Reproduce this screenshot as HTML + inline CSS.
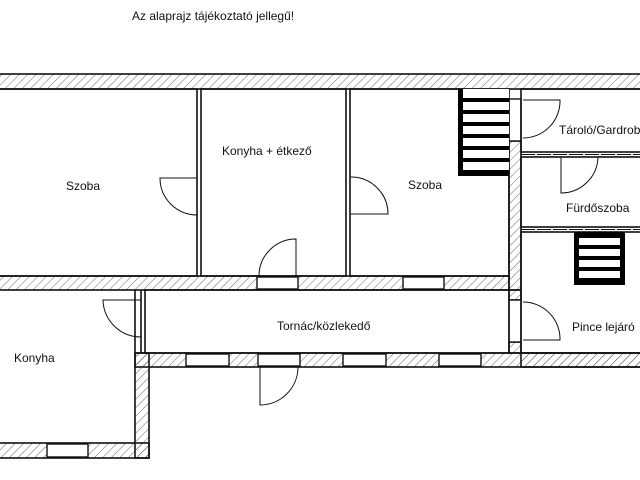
<!DOCTYPE html>
<html><head><meta charset="utf-8"><style>
html,body{margin:0;padding:0;background:#fff;width:640px;height:480px;overflow:hidden}
svg{display:block}
text{font-family:"Liberation Sans",sans-serif;font-size:12px;fill:#111}
</style></head><body>
<svg width="640" height="480" viewBox="0 0 640 480" xmlns="http://www.w3.org/2000/svg">
<defs>
<pattern id="h" width="6" height="6" patternUnits="userSpaceOnUse" patternTransform="rotate(45)">
<line x1="0" y1="0" x2="0" y2="6" stroke="#444" stroke-width="0.8"/>
</pattern>
</defs>
<text x="132" y="20" font-size="12">Az alaprajz tájékoztató jellegű!</text>
<g stroke="#111" stroke-width="1.6">
<rect x="-2" y="74" width="644" height="15" fill="url(#h)"/>
<rect x="-2" y="276" width="511" height="14" fill="url(#h)"/>
<rect x="509" y="141" width="12" height="149" fill="url(#h)"/>
<rect x="509" y="290" width="12" height="10" fill="url(#h)"/>
<rect x="509" y="342" width="12" height="11" fill="url(#h)"/>
<rect x="135" y="353" width="507" height="14" fill="url(#h)"/>
<rect x="135" y="353" width="14" height="105" fill="url(#h)"/>
<rect x="-2" y="443" width="151" height="15" fill="url(#h)"/>
<rect x="521" y="353" width="121" height="14" fill="url(#h)"/>
</g>
<g fill="#fff" stroke="#111" stroke-width="1.4">
<rect x="257" y="277" width="41" height="12"/>
<rect x="403" y="277" width="41" height="12"/>
<rect x="186" y="354" width="43" height="12"/>
<rect x="258" y="354" width="42" height="12"/>
<rect x="343" y="354" width="43" height="12"/>
<rect x="439" y="354" width="42" height="12"/>
<rect x="47" y="444" width="41" height="13"/>
<rect x="509" y="99" width="12" height="42"/>
<rect x="509" y="300" width="12" height="42"/>
</g>
<g fill="none" stroke="#111" stroke-width="1.6">
<rect x="-2" y="89" width="199" height="187"/>
<rect x="201" y="89" width="145" height="187"/>
<rect x="350" y="89" width="159" height="187"/>
<rect x="521" y="89" width="121" height="63"/>
<rect x="521" y="157" width="121" height="70"/>
<rect x="521" y="232" width="121" height="121"/>
<rect x="145" y="290" width="364" height="63"/>
<line x1="141" y1="290" x2="141" y2="353"/>
<line x1="135" y1="290" x2="135" y2="353"/>
</g>
<g fill="none" stroke="#111" stroke-width="1">
<line x1="521" y1="154.5" x2="642" y2="154.5" stroke-dasharray="14,2"/>
<line x1="521" y1="229.5" x2="642" y2="229.5" stroke-dasharray="14,2"/>
<path d="M197 178 H160 A37 37 0 0 0 197 215"/>
<path d="M296 276 V239 A37 37 0 0 0 259 276"/>
<path d="M351 214 H388 A37 37 0 0 0 351 177"/>
<path d="M523 100 H560 A37 37 0 0 1 523 138"/>
<path d="M561 157 V193 A37 37 0 0 0 598 157"/>
<path d="M141 300 H103 A38 38 0 0 0 141 337"/>
<path d="M523 302 A37 37 0 0 1 560 340 H523"/>
<path d="M260 367 V405 A38 38 0 0 0 298 367"/>
</g>
<rect x="458" y="89" width="51" height="87" fill="#000"/>
<g fill="#fff">
<rect x="463" y="89" width="46" height="9"/>
<rect x="463" y="102" width="46" height="8"/>
<rect x="463" y="114" width="46" height="8"/>
<rect x="463" y="126" width="46" height="8"/>
<rect x="463" y="138" width="46" height="8"/>
<rect x="463" y="150" width="46" height="8"/>
<rect x="463" y="162" width="46" height="8"/>
</g>
<rect x="574" y="232" width="51" height="53" fill="#000"/>
<g fill="#fff">
<rect x="579" y="238" width="41" height="7"/>
<rect x="579" y="249" width="41" height="7"/>
<rect x="579" y="260" width="41" height="7"/>
<rect x="579" y="271" width="41" height="7"/>
</g>
<text x="66" y="190">Szoba</text>
<text x="222" y="155">Konyha + étkező</text>
<text x="408" y="189">Szoba</text>
<text x="559" y="134" font-size="12.5">Tároló/Gardrob</text>
<text x="566" y="212">Fürdőszoba</text>
<text x="277" y="330">Tornác/közlekedő</text>
<text x="14" y="362">Konyha</text>
<text x="572" y="331">Pince lejáró</text>
</svg>
</body></html>
